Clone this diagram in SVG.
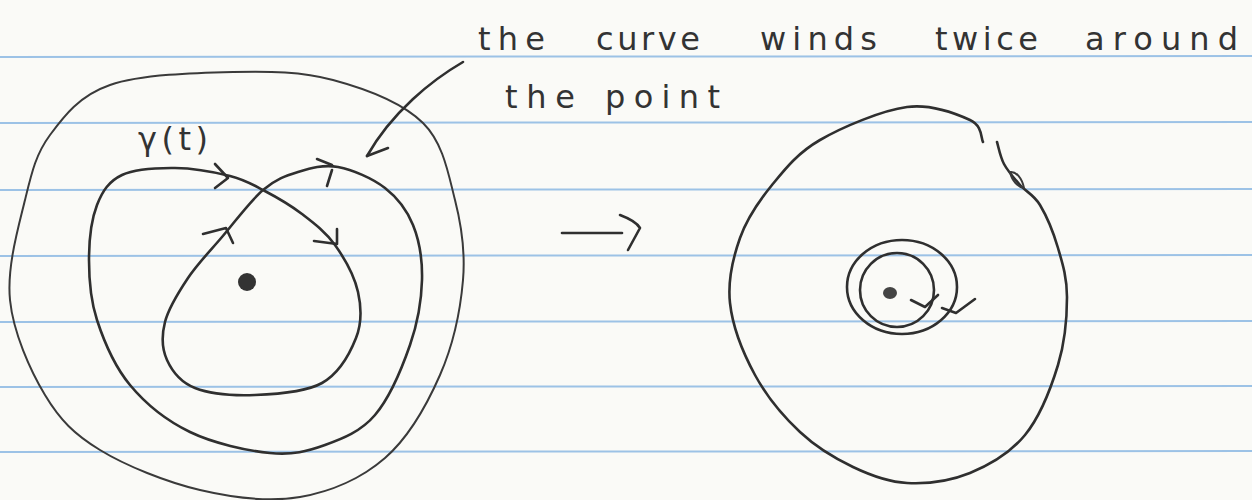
<svg xmlns="http://www.w3.org/2000/svg" width="1252" height="500" viewBox="0 0 1252 500">
<style>
.rule{stroke:#9cc2e6;stroke-width:2;fill:none}
.pen{stroke:#2f2f2f;stroke-width:2.6;fill:none;stroke-linecap:round;stroke-linejoin:round}
.thin{stroke:#3a3a3a;stroke-width:2;fill:none;stroke-linecap:round;stroke-linejoin:round}
.hand{font-family:"DejaVu Sans","Liberation Sans",sans-serif;font-size:32px;fill:#333}
</style>
<rect width="1252" height="500" fill="#fafaf7"/>
<g id="paper-rules">
<line class="rule" x1="0" y1="57" x2="1252" y2="56"/>
<line class="rule" x1="0" y1="123" x2="1252" y2="122"/>
<line class="rule" x1="0" y1="190" x2="1252" y2="189"/>
<line class="rule" x1="0" y1="256" x2="1252" y2="255"/>
<line class="rule" x1="0" y1="322" x2="1252" y2="321"/>
<line class="rule" x1="0" y1="387" x2="1252" y2="386"/>
<line class="rule" x1="0" y1="452" x2="1252" y2="451"/>
</g>
<g id="left-disc">
<path class="thin" d="M233,72 C270.2,71.2 301.3,71.5 333,80 S402.7,103 423,123 S448.3,173.8 455,200 S465.5,250.8 463,280 S453,345.3 440,375 S408.3,437.7 385,458 S330.8,491.7 300,497 S233.3,497.8 200,490 S125.8,465.8 100,450 S60,420 45,395 S13.3,332.5 10,300 S18.3,227.5 25,200 S35.8,154.2 50,135 S79.5,95.5 110,85 S195.8,72.8 233,72 Z"/>
</g>
<g id="curve-gamma">
<path class="pen" d="M122,175 C135,168.8 157,167.8 175,168 S215.3,172.3 230,176 S251,183.7 263,190 S290,204.8 302,214 S325.7,232 335,245 S354.5,276.5 358,292 S362,322.8 356,338 S338.8,373.5 322,383 S276.2,394.2 255,395 S209.7,393.8 195,388 S172,371 167,360 S161.5,335.7 165,322 S178.5,292.2 188,278 S209.5,251.7 222,237 S250.3,200.8 263,190 S285.5,175.8 298,172 S323.5,164.3 338,167 S372.5,178.3 385,188 S406.8,209.7 413,225 S422.5,260 422,280 S417.8,322.5 410,345 S389.2,398.3 375,415 S342.5,438.7 325,445 S292.5,455.2 270,453 S213.3,443.3 190,432 S145.5,403.7 130,385 S103.8,340.8 97,320 S89,279.2 89,260 S91.5,219.2 97,205 S109,181.2 122,175"/>
<path class="pen" d="M215,164 L228,178 L215,188"/>
<path class="pen" d="M317,159 L332,165 M332,170 L327,186"/>
<path class="pen" d="M203,234 L226,228 L233,243"/>
<path class="pen" d="M314,241 L337,244 L337,229"/>
<text class="hand" x="138" y="150" font-size="34" textLength="70" lengthAdjust="spacing">γ(t)</text>
</g>
<g id="left-point">
<circle cx="247" cy="282" r="9" fill="#333"/>
</g>
<g id="label">
<text class="hand" y="50" x="478" textLength="67" lengthAdjust="spacing">the</text>
<text class="hand" y="50" x="596" textLength="104" lengthAdjust="spacing">curve</text>
<text class="hand" y="50" x="760" textLength="117" lengthAdjust="spacing">winds</text>
<text class="hand" y="50" x="935" textLength="103" lengthAdjust="spacing">twice</text>
<text class="hand" y="50" x="1085" textLength="153" lengthAdjust="spacing">around</text>
<text class="hand" y="108" x="505" textLength="70" lengthAdjust="spacing">the</text>
<text class="hand" y="108" x="605" textLength="115" lengthAdjust="spacing">point</text>
</g>
<g id="right-disc">
<path class="pen" d="M997,142 C998.2,145.7 1000.2,156.8 1004,164 S1014,178.2 1020,185 S1033.7,194.5 1040,205 S1053.5,232.7 1058,248 S1067,277.5 1067,297 S1065,342 1058,365 S1039.7,417 1025,435 S989.7,465 970,473 S926.5,484 907,483 S870.8,475.5 853,467 S816.3,447.3 800,432 S766.7,396.5 755,375 S732.5,325.8 730,303 S733,257.7 740,238 S758.7,201.3 772,185 S797.5,153 820,140 S882,110.3 907,107 S957.3,114.2 970,120 S980.8,138.3 983,142"/>
<path class="thin" d="M1010,172 C1016,171 1022,178 1024,188 C1018,187 1012,181 1010,172 Z"/>
</g>
<g id="right-curve">
<ellipse class="pen" cx="902" cy="287" rx="55" ry="47"/>
<ellipse class="pen" cx="897" cy="290" rx="37" ry="37"/>
<path class="pen" d="M911,300 L925,307 L938,295"/>
<path class="pen" d="M942,308 L956,313 L975,299"/>
<ellipse cx="890" cy="293" rx="7" ry="6" fill="#444"/>
</g>
<g id="connectors">
<path class="pen" d="M463,62 C432,80 392,112 367,156"/>
<path class="pen" d="M367,156 L388,148"/>
<path class="pen" d="M562,233 L622,233"/>
<path class="pen" d="M620,215 Q636,221 640,228 L628,250"/>
</g>
</svg>
